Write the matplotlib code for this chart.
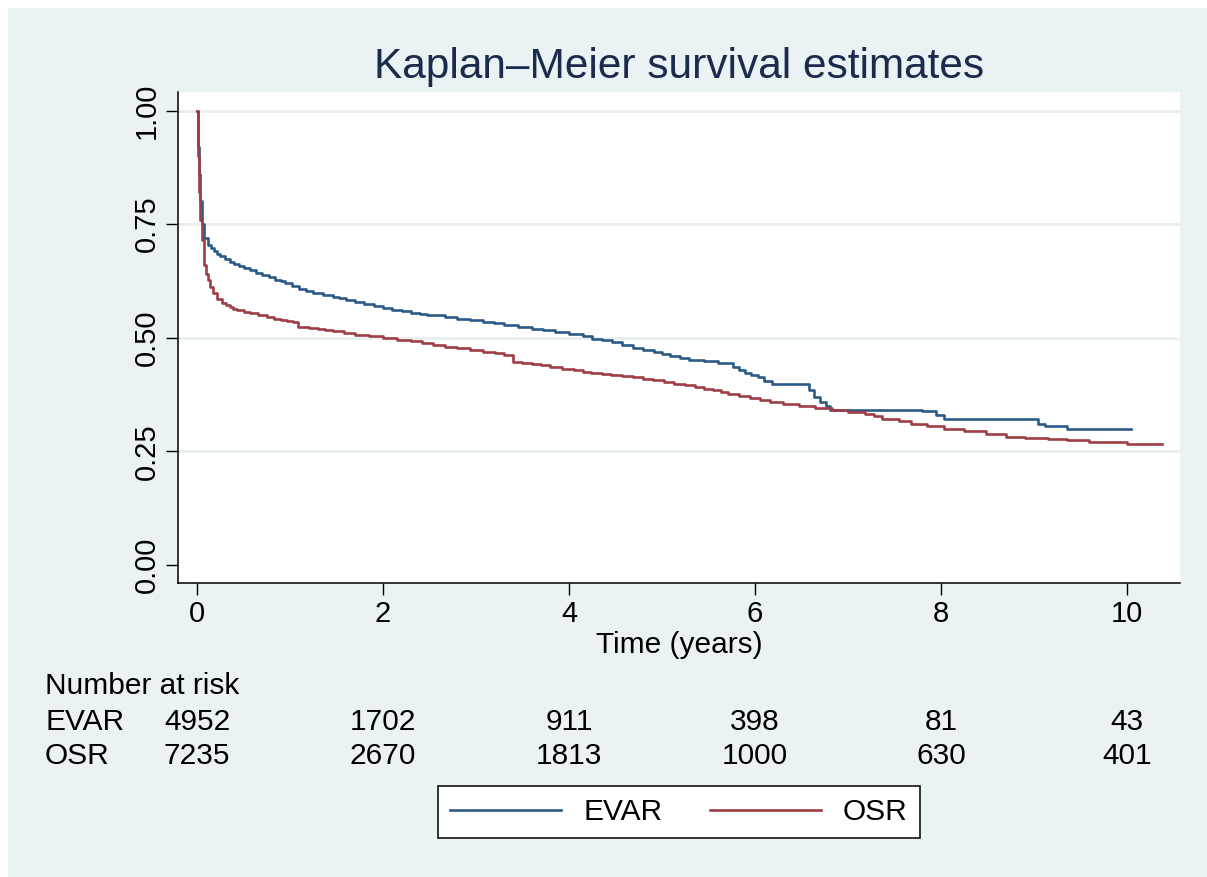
import matplotlib
matplotlib.use('Agg')
import matplotlib.pyplot as plt
from matplotlib.patches import Rectangle
from matplotlib.transforms import blended_transform_factory

plt.rcParams['font.family'] = ['Liberation Sans', 'DejaVu Sans']

# Kaplan-Meier estimates (time in years, survival)
evar_t = [0, 0.01, 0.02, 0.03, 0.05, 0.08, 0.12, 0.15, 0.18, 0.21, 0.25, 0.3, 0.35, 0.4,
          0.45, 0.51, 0.57, 0.63, 0.7, 0.77, 0.84, 0.9, 0.95, 1.02, 1.1, 1.17, 1.25, 1.35,
          1.46, 1.53, 1.6, 1.7, 1.8, 1.9, 2.0, 2.1, 2.2, 2.3, 2.4, 2.47, 2.54, 2.67, 2.8,
          2.94, 3.08, 3.19, 3.3, 3.45, 3.6, 3.72, 3.85, 4.0, 4.15,
          4.25, 4.35, 4.46, 4.57, 4.69, 4.8, 4.91, 5.0, 5.09, 5.19, 5.29, 5.45, 5.6, 5.76,
          5.83, 5.89, 5.96, 6.03, 6.1, 6.18, 6.58, 6.64, 6.70, 6.76, 6.81, 7.8, 7.95,
          8.03, 9.04, 9.12, 9.35, 10.04]
evar_s = [1.0, 0.92, 0.86, 0.80, 0.75, 0.72, 0.705, 0.697, 0.69, 0.685, 0.68, 0.673, 0.667, 0.662,
          0.657, 0.653, 0.649, 0.643, 0.638, 0.633, 0.628, 0.624, 0.62, 0.613, 0.607, 0.602, 0.598, 0.594,
          0.59, 0.587, 0.584, 0.579, 0.575, 0.57, 0.566, 0.562, 0.558, 0.555, 0.553, 0.551, 0.549, 0.545, 0.542,
          0.538, 0.535, 0.532, 0.529, 0.524, 0.52, 0.516, 0.512, 0.508, 0.503,
          0.497, 0.494, 0.49, 0.484, 0.477, 0.473, 0.469, 0.465, 0.46, 0.456, 0.451, 0.448, 0.445, 0.436,
          0.429, 0.422, 0.417, 0.413, 0.405, 0.398, 0.385, 0.37, 0.359, 0.35, 0.341, 0.338, 0.33,
          0.322, 0.31, 0.305, 0.298, 0.298]

osr_t = [0, 0.01, 0.02, 0.03, 0.05, 0.07, 0.10, 0.12, 0.145, 0.17, 0.22,
         0.265, 0.31, 0.35, 0.39, 0.43, 0.5, 0.57, 0.66, 0.75, 0.83, 0.9, 0.97, 1.03, 1.09, 1.2,
         1.3, 1.38, 1.46, 1.58, 1.7, 1.85, 2.0, 2.15, 2.3, 2.42, 2.54, 2.67, 2.8, 2.94, 3.08,
         3.2, 3.3, 3.40, 3.5, 3.6, 3.7, 3.8, 3.92, 4.05, 4.15, 4.24, 4.35, 4.45, 4.57, 4.69,
         4.8, 4.9, 5.02, 5.13, 5.25, 5.36, 5.45, 5.55, 5.63, 5.71, 5.83, 5.95, 6.05,
         6.16, 6.3, 6.47, 6.65, 6.83, 7.0, 7.18, 7.28, 7.37, 7.55, 7.68, 7.85, 8.03, 8.25,
         8.48, 8.70, 8.9, 9.15, 9.35, 9.59, 10.0, 10.38]
osr_s = [1.0, 0.90, 0.82, 0.76, 0.715, 0.66, 0.64, 0.627, 0.612, 0.598, 0.585,
         0.576, 0.571, 0.567, 0.564, 0.561, 0.557, 0.554, 0.549, 0.545, 0.542, 0.54, 0.537, 0.535, 0.524, 0.521,
         0.519, 0.517, 0.515, 0.511, 0.507, 0.503, 0.499, 0.495, 0.492, 0.488, 0.484, 0.48, 0.477, 0.473, 0.469,
         0.466, 0.462, 0.447, 0.444, 0.442, 0.439, 0.436, 0.432, 0.429, 0.425, 0.422, 0.42, 0.418, 0.416, 0.413,
         0.41, 0.406, 0.403, 0.399, 0.396, 0.392, 0.388, 0.384, 0.38, 0.376, 0.372, 0.367, 0.363,
         0.359, 0.355, 0.35, 0.346, 0.341, 0.337, 0.333, 0.328, 0.322, 0.316, 0.311, 0.306, 0.300, 0.294,
         0.289, 0.281, 0.279, 0.276, 0.274, 0.271, 0.267, 0.267]

risk_times = [0, 2, 4, 6, 8, 10]
evar_risk = [4952, 1702, 911, 398, 81, 43]
osr_risk = [7235, 2670, 1813, 1000, 630, 401]

bg = '#EAF2F3'
blue = '#2C5A86'
red = '#9E3E46'
fs = 21.5

# light bluish-gray page, thin white strip along the left and top edges
fig = plt.figure(figsize=(12.07, 8.77), dpi=100, facecolor=bg)
fig.patches.append(Rectangle((0, 0), 8 / 1207, 1, transform=fig.transFigure,
                             facecolor='white', edgecolor='none', zorder=-10))
fig.patches.append(Rectangle((0, 1 - 8 / 877), 1, 8 / 877, transform=fig.transFigure,
                             facecolor='white', edgecolor='none', zorder=-10))

ax = fig.add_axes([0.1475, 0.3352, 0.8301, 0.5599])
ax.set_facecolor('white')

ax.plot(evar_t, evar_s, drawstyle='steps-post', color=blue, lw=1.9, label='EVAR')
ax.plot(osr_t, osr_s, drawstyle='steps-post', color=red, lw=1.9, label='OSR')

ax.set_xlim(-0.204, 10.57)
ax.set_ylim(-0.040, 1.041)
ax.set_xticks([0, 2, 4, 6, 8, 10])
ax.set_yticks([0, 0.25, 0.5, 0.75, 1.0])
ax.set_yticklabels(['0.00', '0.25', '0.50', '0.75', '1.00'], rotation=90, va='center')

ax.yaxis.grid(True, color='#E8EFF1', lw=2)
ax.yaxis.get_gridlines()[0].set_visible(False)
ax.set_axisbelow(True)

for s in ['top', 'right']:
    ax.spines[s].set_visible(False)
for s in ['left', 'bottom']:
    ax.spines[s].set_linewidth(1.1)
ax.tick_params(axis='both', length=8.5, width=1, labelsize=21, pad=4, color='black')

ax.set_xlabel('Time (years)', fontsize=fs, labelpad=2)
ax.set_title('Kaplan\u2013Meier survival estimates', fontsize=30.5, color='#1C2A4C', pad=10)

# number at risk table
tr = blended_transform_factory(ax.transData, fig.transFigure)
fig.text(0.0373, 0.2178, 'Number at risk', fontsize=fs, va='center', ha='left')
fig.text(0.0373, 0.1767, 'EVAR', fontsize=fs, va='center', ha='left')
fig.text(0.0373, 0.1380, 'OSR', fontsize=fs, va='center', ha='left')
for t, n in zip(risk_times, evar_risk):
    ax.text(t, 0.1767, str(n), transform=tr, fontsize=fs, ha='center', va='center')
for t, n in zip(risk_times, osr_risk):
    ax.text(t, 0.1380, str(n), transform=tr, fontsize=fs, ha='center', va='center')

leg = fig.legend(loc='center', bbox_to_anchor=(0.5626, 0.0741), ncol=2, fontsize=fs,
                 frameon=True, fancybox=False, handlelength=3.7, handletextpad=0.75,
                 columnspacing=1.6, borderpad=0.4, borderaxespad=0)
leg.get_frame().set_edgecolor('black')
leg.get_frame().set_linewidth(1.1)
leg.get_frame().set_facecolor('white')
leg.get_frame().set_alpha(1)

fig.savefig('out.png', dpi=100, facecolor=fig.get_facecolor())
